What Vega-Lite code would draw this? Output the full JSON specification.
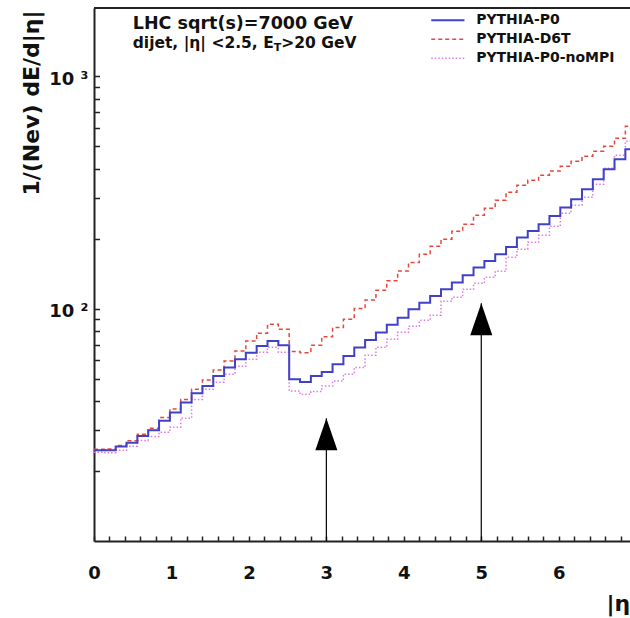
{
  "$schema": "https://vega.github.io/schema/vega-lite/v6.json",
  "width": 536,
  "height": 533,
  "autosize": {"type": "none"},
  "padding": {"left": 94, "top": 8, "right": 0, "bottom": 77},
  "background": "white",
  "config": {
    "view": {"stroke": null},
    "axis": {
      "grid": false,
      "domainColor": "#222222",
      "domainWidth": 2,
      "tickColor": "#222222",
      "tickWidth": 1.5,
      "labelFont": "DejaVu Sans",
      "labelFontWeight": "bold",
      "labelColor": "#111111",
      "titleFont": "DejaVu Sans",
      "titleFontWeight": "bold",
      "titleColor": "#111111",
      "labelFlush": false,
      "labelOverlap": false
    }
  },
  "datasets": {
    "P0": [
      {"eta": 0, "dEdeta": 24.6}, {"eta": 0.14, "dEdeta": 24.6}, {"eta": 0.28, "dEdeta": 25.5}, {"eta": 0.42, "dEdeta": 26.5},
      {"eta": 0.56, "dEdeta": 28.3}, {"eta": 0.7, "dEdeta": 30.0}, {"eta": 0.84, "dEdeta": 32.9}, {"eta": 0.98, "dEdeta": 35.7},
      {"eta": 1.12, "dEdeta": 39.5}, {"eta": 1.26, "dEdeta": 43.3}, {"eta": 1.4, "dEdeta": 46.5}, {"eta": 1.54, "dEdeta": 51.3},
      {"eta": 1.68, "dEdeta": 55.8}, {"eta": 1.82, "dEdeta": 60.6}, {"eta": 1.96, "dEdeta": 64.7}, {"eta": 2.1, "dEdeta": 69.1},
      {"eta": 2.24, "dEdeta": 72.6}, {"eta": 2.38, "dEdeta": 69.6}, {"eta": 2.52, "dEdeta": 49.7}, {"eta": 2.66, "dEdeta": 48.4},
      {"eta": 2.8, "dEdeta": 51.3}, {"eta": 2.94, "dEdeta": 53.4}, {"eta": 3.08, "dEdeta": 57.6}, {"eta": 3.22, "dEdeta": 62.6},
      {"eta": 3.36, "dEdeta": 68.0}, {"eta": 3.5, "dEdeta": 73.3}, {"eta": 3.64, "dEdeta": 78.9}, {"eta": 3.78, "dEdeta": 85.2},
      {"eta": 3.92, "dEdeta": 91.5}, {"eta": 4.06, "dEdeta": 99.4}, {"eta": 4.2, "dEdeta": 106.2}, {"eta": 4.34, "dEdeta": 113.4},
      {"eta": 4.48, "dEdeta": 121.2}, {"eta": 4.62, "dEdeta": 129.5}, {"eta": 4.76, "dEdeta": 139.2}, {"eta": 4.9, "dEdeta": 150.3},
      {"eta": 5.04, "dEdeta": 160.5}, {"eta": 5.18, "dEdeta": 171.5}, {"eta": 5.32, "dEdeta": 184.5}, {"eta": 5.46, "dEdeta": 202.3},
      {"eta": 5.6, "dEdeta": 216}, {"eta": 5.74, "dEdeta": 230.8}, {"eta": 5.88, "dEdeta": 250.6}, {"eta": 6.02, "dEdeta": 272.4},
      {"eta": 6.16, "dEdeta": 295.8}, {"eta": 6.3, "dEdeta": 326.6}, {"eta": 6.44, "dEdeta": 360.6}, {"eta": 6.58, "dEdeta": 398.3},
      {"eta": 6.72, "dEdeta": 439.5}, {"eta": 6.86, "dEdeta": 485.6}, {"eta": 7.0, "dEdeta": 485.6}
    ],
    "D6T": [
      {"eta": 0, "dEdeta": 24.8}, {"eta": 0.14, "dEdeta": 24.9}, {"eta": 0.28, "dEdeta": 25.8}, {"eta": 0.42, "dEdeta": 27.0},
      {"eta": 0.56, "dEdeta": 28.8}, {"eta": 0.7, "dEdeta": 30.6}, {"eta": 0.84, "dEdeta": 34.0}, {"eta": 0.98, "dEdeta": 37.0},
      {"eta": 1.12, "dEdeta": 40.7}, {"eta": 1.26, "dEdeta": 45.0}, {"eta": 1.4, "dEdeta": 49.3}, {"eta": 1.54, "dEdeta": 54.5},
      {"eta": 1.68, "dEdeta": 59.6}, {"eta": 1.82, "dEdeta": 65.8}, {"eta": 1.96, "dEdeta": 72.6}, {"eta": 2.1, "dEdeta": 78.4},
      {"eta": 2.24, "dEdeta": 85.7}, {"eta": 2.38, "dEdeta": 81.5}, {"eta": 2.52, "dEdeta": 65.5}, {"eta": 2.66, "dEdeta": 64.7},
      {"eta": 2.8, "dEdeta": 69.6}, {"eta": 2.94, "dEdeta": 75.8}, {"eta": 3.08, "dEdeta": 82.9}, {"eta": 3.22, "dEdeta": 90.0},
      {"eta": 3.36, "dEdeta": 100.1}, {"eta": 3.5, "dEdeta": 109}, {"eta": 3.64, "dEdeta": 120}, {"eta": 3.78, "dEdeta": 132},
      {"eta": 3.92, "dEdeta": 145.3}, {"eta": 4.06, "dEdeta": 157.9}, {"eta": 4.2, "dEdeta": 171.5}, {"eta": 4.34, "dEdeta": 185.6},
      {"eta": 4.48, "dEdeta": 199}, {"eta": 4.62, "dEdeta": 215.4}, {"eta": 4.76, "dEdeta": 230.8}, {"eta": 4.9, "dEdeta": 252.4},
      {"eta": 5.04, "dEdeta": 270.5}, {"eta": 5.18, "dEdeta": 292.9}, {"eta": 5.32, "dEdeta": 317}, {"eta": 5.46, "dEdeta": 339.8},
      {"eta": 5.6, "dEdeta": 357}, {"eta": 5.74, "dEdeta": 375.2}, {"eta": 5.88, "dEdeta": 391.5}, {"eta": 6.02, "dEdeta": 410.2},
      {"eta": 6.16, "dEdeta": 431}, {"eta": 6.3, "dEdeta": 452.9}, {"eta": 6.44, "dEdeta": 476}, {"eta": 6.58, "dEdeta": 500.1},
      {"eta": 6.72, "dEdeta": 541.5}, {"eta": 6.86, "dEdeta": 610}, {"eta": 7.0, "dEdeta": 610}
    ],
    "noMPI": [
      {"eta": 0, "dEdeta": 24.1}, {"eta": 0.14, "dEdeta": 24.0}, {"eta": 0.28, "dEdeta": 24.6}, {"eta": 0.42, "dEdeta": 25.6},
      {"eta": 0.56, "dEdeta": 27.1}, {"eta": 0.7, "dEdeta": 28.2}, {"eta": 0.84, "dEdeta": 29.4}, {"eta": 0.98, "dEdeta": 30.9},
      {"eta": 1.12, "dEdeta": 33.8}, {"eta": 1.26, "dEdeta": 40.7}, {"eta": 1.4, "dEdeta": 45.0}, {"eta": 1.54, "dEdeta": 48.2},
      {"eta": 1.68, "dEdeta": 52.2}, {"eta": 1.82, "dEdeta": 56.5}, {"eta": 1.96, "dEdeta": 60.6}, {"eta": 2.1, "dEdeta": 64.9},
      {"eta": 2.24, "dEdeta": 68.2}, {"eta": 2.38, "dEdeta": 64.9}, {"eta": 2.52, "dEdeta": 44.2}, {"eta": 2.66, "dEdeta": 42.8},
      {"eta": 2.8, "dEdeta": 44.0}, {"eta": 2.94, "dEdeta": 46.5}, {"eta": 3.08, "dEdeta": 48.8}, {"eta": 3.22, "dEdeta": 52.2},
      {"eta": 3.36, "dEdeta": 55.8}, {"eta": 3.5, "dEdeta": 63.0}, {"eta": 3.64, "dEdeta": 68.2}, {"eta": 3.78, "dEdeta": 73.8},
      {"eta": 3.92, "dEdeta": 79.1}, {"eta": 4.06, "dEdeta": 84.0}, {"eta": 4.2, "dEdeta": 89.1}, {"eta": 4.34, "dEdeta": 93.7},
      {"eta": 4.48, "dEdeta": 107.6}, {"eta": 4.62, "dEdeta": 111.9}, {"eta": 4.76, "dEdeta": 121.2}, {"eta": 4.9, "dEdeta": 128.6},
      {"eta": 5.04, "dEdeta": 136.5}, {"eta": 5.18, "dEdeta": 144.9}, {"eta": 5.32, "dEdeta": 166.4}, {"eta": 5.46, "dEdeta": 180.2},
      {"eta": 5.6, "dEdeta": 193.1}, {"eta": 5.74, "dEdeta": 207}, {"eta": 5.88, "dEdeta": 226.3}, {"eta": 6.02, "dEdeta": 257.4},
      {"eta": 6.16, "dEdeta": 278.7}, {"eta": 6.3, "dEdeta": 301.7}, {"eta": 6.44, "dEdeta": 343.1}, {"eta": 6.58, "dEdeta": 402.3},
      {"eta": 6.72, "dEdeta": 457.5}, {"eta": 6.86, "dEdeta": 525.5}, {"eta": 7.0, "dEdeta": 525.5}
    ],
    "arrows": [
      {"eta": 3, "base": 10, "tip": 33.8},
      {"eta": 5, "base": 10, "tip": 105.5}
    ],
    "one": [{}]
  },
  "layer": [
    {
      "data": {"name": "noMPI"},
      "mark": {"type": "line", "interpolate": "step-after", "clip": true, "color": "#e07ae0", "strokeWidth": 1.5, "strokeDash": [1.5, 2]},
      "encoding": {
        "x": {"field": "eta", "type": "quantitative", "scale": {"domain": [0, 6.92], "nice": false, "zero": false},
          "axis": {"orient": "bottom",
            "values": [0, 0.2, 0.4, 0.6, 0.8, 1, 1.2, 1.4, 1.6, 1.8, 2, 2.2, 2.4, 2.6, 2.8, 3, 3.2, 3.4, 3.6, 3.8, 4, 4.2, 4.4, 4.6, 4.8, 5, 5.2, 5.4, 5.6, 5.8, 6, 6.2, 6.4, 6.6, 6.8],
            "tickCount": 200,
            "tickSize": -5,
            "labelOverlap": false,
            "labelExpr": "abs(datum.value - round(datum.value)) < 0.01 ? toString(round(datum.value)) : ''",
            "labelFontSize": 18, "labelBaseline": "middle", "labelPadding": 37,
            "encode": {"ticks": {"update": {"y2": [{"test": "abs(datum.value - round(datum.value)) < 0.01", "value": -10}, {"value": -5}]}}},
            "title": "|η|", "titleFontSize": 22, "titleX": 512, "titleY": 62, "titleAlign": "left", "titleBaseline": "middle"}},
        "y": {"field": "dEdeta", "type": "quantitative", "scale": {"type": "log", "domain": [10, 1970], "nice": false},
          "axis": {"orient": "left",
            "values": [20, 30, 40, 50, 60, 70, 80, 90, 100, 200, 300, 400, 500, 600, 700, 800, 900, 1000],
            "tickCount": 200,
            "tickSize": -5.5,
            "labelOverlap": false,
            "labelExpr": "datum.value === 100 ? '10 ²' : datum.value === 1000 ? '10 ³' : ''",
            "labelFontSize": 18, "labelAlign": "right", "labelBaseline": "middle", "labelPadding": 11.5, "labelOffset": 3,
            "encode": {"ticks": {"update": {"x2": [{"test": "datum.value === 100 || datum.value === 1000", "value": 11}, {"value": 5.5}]}}},
            "title": "1/(Nev) dE/d|η|", "titleFontSize": 22, "titleAngle": -90, "titleX": -51, "titleY": 2, "titleAlign": "right", "titleBaseline": "bottom"}}
      }
    },
    {
      "data": {"name": "D6T"},
      "mark": {"type": "line", "interpolate": "step-after", "clip": true, "color": "#e5483c", "strokeWidth": 1.5, "strokeDash": [4, 3]},
      "encoding": {
        "x": {"field": "eta", "type": "quantitative"},
        "y": {"field": "dEdeta", "type": "quantitative"}
      }
    },
    {
      "data": {"name": "P0"},
      "mark": {"type": "line", "interpolate": "step-after", "clip": true, "color": "#4040c8", "strokeWidth": 2},
      "encoding": {
        "x": {"field": "eta", "type": "quantitative"},
        "y": {"field": "dEdeta", "type": "quantitative"}
      }
    },
    {
      "data": {"name": "one"},
      "mark": {"type": "rule", "color": "#222222", "strokeWidth": 2},
      "encoding": {
        "x": {"datum": 0, "type": "quantitative"},
        "x2": {"datum": 6.92},
        "y": {"datum": 1970, "type": "quantitative"}
      }
    },
    {
      "data": {"name": "arrows"},
      "mark": {"type": "rule", "color": "#000000", "strokeWidth": 1.2},
      "encoding": {
        "x": {"field": "eta", "type": "quantitative"},
        "y": {"field": "base", "type": "quantitative"},
        "y2": {"field": "tip"}
      }
    },
    {
      "data": {"name": "arrows"},
      "mark": {"type": "point", "shape": "M0,0L-0.69,2L0.69,2Z", "size": 1024, "filled": true, "color": "#000000", "opacity": 1, "strokeWidth": 0},
      "encoding": {
        "x": {"field": "eta", "type": "quantitative"},
        "y": {"field": "tip", "type": "quantitative"}
      }
    },
    {
      "data": {"name": "one"},
      "mark": {"type": "text", "align": "left", "baseline": "middle", "font": "DejaVu Sans", "fontWeight": "bold", "fontSize": 17.5, "color": "#111111"},
      "encoding": {
        "x": {"datum": 0.5, "type": "quantitative"},
        "y": {"datum": 1673, "type": "quantitative"},
        "text": {"value": "LHC sqrt(s)=7000 GeV"}
      }
    },
    {
      "data": {"name": "one"},
      "mark": {"type": "text", "align": "left", "baseline": "middle", "font": "DejaVu Sans", "fontWeight": "bold", "fontSize": 15.5, "color": "#111111"},
      "encoding": {
        "x": {"datum": 0.5, "type": "quantitative"},
        "y": {"datum": 1388, "type": "quantitative"},
        "text": {"value": "dijet, |η| <2.5, E"}
      }
    },
    {
      "data": {"name": "one"},
      "mark": {"type": "text", "align": "left", "baseline": "middle", "font": "DejaVu Sans", "fontWeight": "bold", "fontSize": 11, "color": "#111111", "dx": 141, "dy": 5},
      "encoding": {
        "x": {"datum": 0.5, "type": "quantitative"},
        "y": {"datum": 1388, "type": "quantitative"},
        "text": {"value": "T"}
      }
    },
    {
      "data": {"name": "one"},
      "mark": {"type": "text", "align": "left", "baseline": "middle", "font": "DejaVu Sans", "fontWeight": "bold", "fontSize": 15.5, "color": "#111111", "dx": 148.5},
      "encoding": {
        "x": {"datum": 0.5, "type": "quantitative"},
        "y": {"datum": 1388, "type": "quantitative"},
        "text": {"value": ">20 GeV"}
      }
    },
    {
      "data": {"name": "one"},
      "mark": {"type": "rule", "color": "#4040c8", "strokeWidth": 2},
      "encoding": {
        "x": {"datum": 4.354, "type": "quantitative"},
        "x2": {"datum": 4.783},
        "y": {"datum": 1745, "type": "quantitative"}
      }
    },
    {
      "data": {"name": "one"},
      "mark": {"type": "rule", "color": "#e5483c", "strokeWidth": 1.5, "strokeDash": [4, 3]},
      "encoding": {
        "x": {"datum": 4.354, "type": "quantitative"},
        "x2": {"datum": 4.783},
        "y": {"datum": 1446, "type": "quantitative"}
      }
    },
    {
      "data": {"name": "one"},
      "mark": {"type": "rule", "color": "#e07ae0", "strokeWidth": 1.5, "strokeDash": [1.5, 2]},
      "encoding": {
        "x": {"datum": 4.354, "type": "quantitative"},
        "x2": {"datum": 4.783},
        "y": {"datum": 1198, "type": "quantitative"}
      }
    },
    {
      "data": {"name": "one"},
      "mark": {"type": "text", "align": "left", "baseline": "middle", "font": "DejaVu Sans", "fontWeight": "bold", "fontSize": 14, "color": "#111111"},
      "encoding": {
        "x": {"datum": 4.934, "type": "quantitative"},
        "y": {"datum": 1745, "type": "quantitative"},
        "text": {"value": "PYTHIA-P0"}
      }
    },
    {
      "data": {"name": "one"},
      "mark": {"type": "text", "align": "left", "baseline": "middle", "font": "DejaVu Sans", "fontWeight": "bold", "fontSize": 14, "color": "#111111"},
      "encoding": {
        "x": {"datum": 4.934, "type": "quantitative"},
        "y": {"datum": 1446, "type": "quantitative"},
        "text": {"value": "PYTHIA-D6T"}
      }
    },
    {
      "data": {"name": "one"},
      "mark": {"type": "text", "align": "left", "baseline": "middle", "font": "DejaVu Sans", "fontWeight": "bold", "fontSize": 14, "color": "#111111"},
      "encoding": {
        "x": {"datum": 4.934, "type": "quantitative"},
        "y": {"datum": 1198, "type": "quantitative"},
        "text": {"value": "PYTHIA-P0-noMPI"}
      }
    }
  ]
}
